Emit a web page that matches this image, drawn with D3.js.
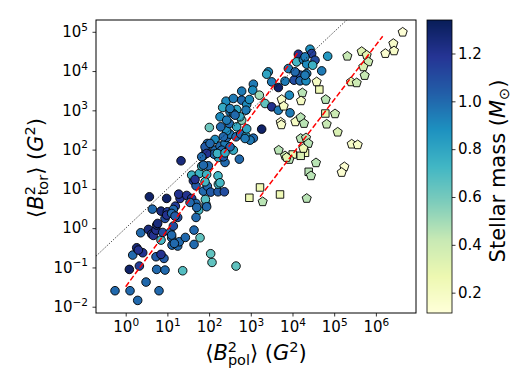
<!DOCTYPE html>
<html><head><meta charset="utf-8">
<script src="https://cdn.jsdelivr.net/npm/d3@7"></script>
<style>body{margin:0;background:#fff} text{font-family:"DejaVu Sans",sans-serif;fill:#000}</style>
</head><body><svg id="c" width="531" height="377"></svg>
<script>
// ---- data (log10 values) ----
const circleLogBpol = [-0.256,0.104,0.288,0.799,0.488,0.088,0.328,0.743,0.943,1.367,2.646,2.070,2.038,0.168,0.264,0.408,0.304,0.727,0.919,0.847,0.360,0.544,0.624,0.663,0.727,0.743,0.847,0.887,1.103,1.111,1.247,1.287,1.431,1.063,1.143,1.783,1.639,1.639,0.943,0.847,0.640,0.983,0.568,0.999,1.247,1.191,1.303,1.143,1.271,1.463,1.583,1.687,1.543,1.751,1.687,1.926,1.911,1.863,1.958,2.038,2.214,2.366,2.222,2.214,1.623,1.583,1.687,1.767,1.942,1.982,1.327,1.823,1.863,1.926,1.958,2.142,2.222,2.382,2.342,2.142,2.262,2.382,2.422,2.502,2.582,2.726,2.422,2.646,2.758,2.886,3.062,2.902,2.486,2.662,2.006,2.278,3.261,2.262,2.422,2.406,2.582,2.782,2.782,2.902,2.662,2.886,2.782,3.062,3.046,2.966,2.326,2.502,3.205,3.341,3.501,3.661,3.941,3.925,3.421,3.381,3.501,3.661,3.821,3.901,4.101,4.197,4.341,4.037,4.181,4.325,4.141,4.420,4.460,4.844,4.101,4.261,4.540,4.341,4.484,4.700,1.903,2.118,2.302,2.502,2.582,2.742,2.982,2.022,2.198,1.942,1.103,0.983,4.301,2.342,2.862,2.502,2.622,4.301,4.061,2.382,1.823,1.863,1.663,1.903,2.262,1.703,1.942,0.767,1.167,1.103,1.183];
const circleLogBtor = [-1.593,-1.593,-1.839,-1.593,-1.372,-1.050,-0.965,-1.050,-1.067,-1.084,-0.965,-0.872,-0.651,-0.685,-0.499,-0.626,-0.558,-0.728,-0.770,-0.668,-0.117,-0.032,-0.151,-0.185,-0.049,0.078,-0.304,-0.109,-0.244,-0.431,-0.456,-0.346,-0.236,-0.109,0.053,-0.244,-0.414,-0.049,0.248,0.434,0.485,0.757,0.799,0.417,0.273,0.561,0.757,0.477,0.867,0.833,0.757,0.629,0.655,0.460,0.273,0.604,0.731,0.943,1.070,0.918,0.926,0.926,1.121,1.333,1.206,1.350,1.079,1.393,1.367,1.588,1.715,1.579,1.842,1.986,2.156,1.986,1.800,1.673,1.817,2.258,2.089,2.156,2.309,2.394,1.986,1.757,2.478,2.326,2.394,2.343,2.292,2.529,2.665,2.580,2.563,2.580,2.521,2.835,2.750,3.233,3.302,3.488,3.259,3.148,3.021,3.004,2.750,3.666,3.514,3.276,3.072,2.962,3.386,3.174,3.089,3.004,2.936,3.386,3.980,3.920,3.725,3.581,3.742,4.064,3.937,3.895,3.937,3.768,3.751,3.751,4.429,4.556,4.446,4.378,4.234,4.293,4.276,4.175,4.149,4.005,2.071,1.885,1.986,2.071,2.919,2.835,2.241,2.156,1.902,1.902,-0.176,0.333,4.361,2.326,2.283,3.047,2.877,3.895,3.980,1.919,1.817,1.605,1.240,1.181,1.155,0.528,0.545,0.120,-0.388,0.375,0.307];
const circleMass = [1.0,1.0,1.0,1.0,1.0,1.3,1.15,1.0,1.0,0.68,0.65,0.65,0.65,1.0,1.25,1.2,1.2,1.05,1.05,1.2,1.0,1.25,1.25,1.2,1.2,1.25,0.72,1.1,1.0,1.0,1.0,1.0,1.0,1.0,1.1,0.65,1.0,1.0,1.1,1.25,1.0,1.3,1.3,1.15,1.1,1.15,1.2,1.0,1.2,1.2,1.15,1.0,1.0,0.72,1.0,0.95,0.68,1.0,1.0,1.05,1.05,1.1,0.72,0.72,1.15,0.75,1.05,0.75,0.75,1.0,1.25,0.75,1.05,1.0,1.0,1.0,0.78,1.0,1.05,0.9,1.0,0.95,1.0,0.95,0.78,1.0,0.9,1.0,1.0,0.8,1.0,0.8,1.0,0.78,0.62,1.0,1.3,0.9,0.95,0.9,0.95,0.95,1.0,0.9,0.8,0.95,0.55,0.95,0.9,0.9,0.78,0.95,0.5,0.65,1.2,0.95,0.95,0.9,0.9,0.8,0.95,1.3,0.95,0.95,1.0,1.1,0.95,1.1,1.0,0.9,1.2,0.88,1.15,0.85,0.72,0.95,1.1,0.9,0.75,0.95,1.05,1.0,1.0,1.0,0.95,0.78,0.95,1.0,0.75,1.2,1.0,1.2,0.95,1.0,0.95,0.95,1.0,0.95,1.0,0.78,1.0,1.0,1.2,0.72,0.72,1.0,1.0,1.25,1.0,1.0,1.05];

const pentLogBpol = [6.643,6.419,6.435,6.227,5.659,5.779,5.819,5.316,5.699,5.731,5.404,5.540,4.580,4.237,4.205,3.741,3.789,4.796,5.020,4.820,3.717,3.733,4.069,4.197,4.277,5.084,5.420,5.564,4.197,4.325,4.381,3.669,3.821,3.925,4.261,4.564,5.244,5.180,4.444,3.285,4.341,3.861];
const pentLogBtor = [4.989,4.701,4.514,4.446,4.497,4.404,4.234,4.378,4.107,3.886,3.725,3.700,3.725,3.445,3.242,3.276,3.106,3.276,2.911,2.648,2.699,2.631,2.707,2.818,2.665,2.444,2.139,2.122,2.283,2.300,2.156,1.986,1.842,1.749,2.030,1.664,1.562,1.418,1.333,0.672,0.757,1.800];
const pentMass = [0.13,0.18,0.18,0.15,0.33,0.3,0.4,0.42,0.35,0.42,0.3,0.4,0.2,0.45,0.2,0.18,0.2,0.45,0.4,0.42,0.15,0.18,0.2,0.45,0.45,0.35,0.18,0.18,0.45,0.45,0.45,0.45,0.4,0.45,0.25,0.45,0.15,0.15,0.45,0.45,0.45,0.3];

const squareLogBpol = [4.644,4.788,4.301,4.005,4.197,4.389,3.221,3.701,2.966];
const squareLogBtor = [3.530,2.919,1.919,1.876,1.842,1.435,1.036,0.858,0.774];
const squareMass = [0.25,0.3,0.25,0.25,0.35,0.45,0.25,0.25,0.25];

// fitted relations (end points, log10)
const fit1LogBpol = [0, 4.141], fit1LogBtor = [-1.491, 4.489];
const fit2LogBpol = [3.221, 6.163], fit2LogBtor = [0.799, 4.887];

const xTickExponents = [0,1,2,3,4,5,6];
const yTickExponents = [-2,-1,0,1,2,3,4,5];
const cbarTicks = [0.2,0.4,0.6,0.8,1.0,1.2];
const massDomain = [0.115, 1.34];
const cmapStops = ["#ffffd9","#edf8b1","#c7e9b4","#7fcdbb","#41b6c4","#1d91c0","#225ea8","#253494","#081d58"];

// ---- drawing ----
const svg = d3.select("#c");
const P = {l:96, r:416, t:20, b:313};
const x = d3.scaleLog().domain([10**-0.712, 10**6.962]).range([P.l, P.r]);
const y = d3.scaleLog().domain([10**-2.16, 10**5.30]).range([P.b, P.t]);
const color = d3.scaleLinear()
  .domain(cmapStops.map((c,i)=>massDomain[0]+i*(massDomain[1]-massDomain[0])/8))
  .range(cmapStops).clamp(true);

svg.append("clipPath").attr("id","clip").append("rect")
  .attr("x",P.l).attr("y",P.t).attr("width",P.r-P.l).attr("height",P.b-P.t);
const g = svg.append("g").attr("clip-path","url(#clip)");

function mk(bp, bt, ms){ return bp.map((v,i)=>({x:10**v, y:10**bt[i], m:ms[i]})); }
const circles = mk(circleLogBpol, circleLogBtor, circleMass);
const pents = mk(pentLogBpol, pentLogBtor, pentMass);
const squares = mk(squareLogBpol, squareLogBtor, squareMass);

const pentagon = { draw(ctx, size){ const R = Math.sqrt(size/2.378);
  for(let k=0;k<5;k++){ const a = -Math.PI/2 + k*2*Math.PI/5;
    const px = R*Math.cos(a), py = R*Math.sin(a);
    if(k===0) ctx.moveTo(px,py); else ctx.lineTo(px,py);} ctx.closePath(); } };

g.selectAll("circle.pt").data(circles).join("circle").attr("class","pt")
  .attr("cx",d=>x(d.x)).attr("cy",d=>y(d.y)).attr("r",4.3)
  .attr("fill",d=>color(d.m)).attr("stroke","#000").attr("stroke-width",0.9);

g.selectAll("path.sq").data(squares).join("path").attr("class","sq")
  .attr("d", d3.symbol().type(d3.symbolSquare).size(56))
  .attr("transform",d=>`translate(${x(d.x)},${y(d.y)})`)
  .attr("fill",d=>color(d.m)).attr("stroke","#000").attr("stroke-width",0.9);

g.selectAll("path.pe").data(pents).join("path").attr("class","pe")
  .attr("d", d3.symbol().type(pentagon).size(2.378*4.8*4.8))
  .attr("transform",d=>`translate(${x(d.x)},${y(d.y)})`)
  .attr("fill",d=>color(d.m)).attr("stroke","#000").attr("stroke-width",0.9);

// 1:1 line
const line = d3.line().x(d=>x(d[0])).y(d=>y(d[1]));
const oneToOne = [10**-0.712, 10**5.30];
g.append("path").attr("d", line(oneToOne.map(v=>[v,v])))
  .attr("fill","none").attr("stroke","#000").attr("stroke-width",0.9).attr("stroke-dasharray","1,1.6");
// fits
[[fit1LogBpol,fit1LogBtor],[fit2LogBpol,fit2LogBtor]].forEach(([a,b])=>{
  g.append("path").attr("d", line(a.map((v,i)=>[10**v, 10**b[i]])))
    .attr("fill","none").attr("stroke","#ff0000").attr("stroke-width",1.5).attr("stroke-dasharray","5.5,2.4");
});

// frame
svg.append("rect").attr("x",P.l).attr("y",P.t).attr("width",P.r-P.l).attr("height",P.b-P.t)
  .attr("fill","none").attr("stroke","#000").attr("stroke-width",1);

// axes
function sciLabel(sel, e, anchor){
  sel.attr("text-anchor",anchor).style("font-size","15px");
  sel.append("tspan").text("10");
  sel.append("tspan").attr("dy",-6.5).style("font-size","10.5px").text(e<0 ? "\u2212"+(-e) : String(e));
}
const xa = svg.append("g").attr("transform",`translate(0,${P.b})`)
  .call(d3.axisBottom(x).tickValues(xTickExponents.map(e=>10**e)).tickSize(3.5).tickSizeOuter(0).tickFormat(()=>""));
xa.select(".domain").remove();
xa.selectAll(".tick line").attr("stroke-width",0.8);
xa.selectAll(".tick").each(function(d,i){
  d3.select(this).select("text").remove();
  const t = d3.select(this).append("text").attr("x",0).attr("y",19);
  sciLabel(t, xTickExponents[i], "middle");
});
const ya = svg.append("g").attr("transform",`translate(${P.l},0)`)
  .call(d3.axisLeft(y).tickValues(yTickExponents.map(e=>10**e)).tickSize(3.5).tickSizeOuter(0).tickFormat(()=>""));
ya.select(".domain").remove();
ya.selectAll(".tick line").attr("stroke-width",0.8);
ya.selectAll(".tick").each(function(d,i){
  d3.select(this).select("text").remove();
  const t = d3.select(this).append("text").attr("x",-8).attr("y",4.8);
  sciLabel(t, yTickExponents[i], "end");
});

// axis labels
const LF = 21, SF = 14.5;
const xl = svg.append("text").attr("x",256).attr("y",360).attr("text-anchor","middle").style("font-size",LF+"px");
xl.append("tspan").text("\u27e8");
xl.append("tspan").style("font-style","italic").text("B");
xl.append("tspan").attr("dy",-8.5).style("font-size",SF+"px").text("2");
xl.append("tspan").attr("dx",-9.2).attr("dy",13.5).style("font-size",SF+"px").text("pol");
xl.append("tspan").attr("dy",-5).text("\u27e9 (");
xl.append("tspan").style("font-style","italic").text("G");
xl.append("tspan").attr("dy",-8.5).style("font-size",SF+"px").text("2");
xl.append("tspan").attr("dy",8.5).text(")");

const yl = svg.append("text").attr("transform","translate(43,168) rotate(-90)").attr("text-anchor","middle").style("font-size",LF+"px");
yl.append("tspan").text("\u27e8");
yl.append("tspan").style("font-style","italic").text("B");
yl.append("tspan").attr("dy",-8.5).style("font-size",SF+"px").text("2");
yl.append("tspan").attr("dx",-9.2).attr("dy",13.5).style("font-size",SF+"px").text("tor");
yl.append("tspan").attr("dy",-5).text("\u27e9 (");
yl.append("tspan").style("font-style","italic").text("G");
yl.append("tspan").attr("dy",-8.5).style("font-size",SF+"px").text("2");
yl.append("tspan").attr("dy",8.5).text(")");

// colorbar
const CB = {l:427, r:452, t:20, b:313};
const cy = d3.scaleLinear().domain(massDomain).range([CB.b, CB.t]);
svg.append("g").selectAll("rect").data(d3.range(CB.t, CB.b, 1)).join("rect")
  .attr("x",CB.l).attr("y",d=>d).attr("width",CB.r-CB.l).attr("height",1.2)
  .attr("fill",d=>color(cy.invert(d+0.5)));
svg.append("rect").attr("x",CB.l).attr("y",CB.t).attr("width",CB.r-CB.l).attr("height",CB.b-CB.t)
  .attr("fill","none").attr("stroke","#000").attr("stroke-width",0.8);
const ca = svg.append("g").attr("transform",`translate(${CB.r},0)`)
  .call(d3.axisRight(cy).tickValues(cbarTicks).tickSize(3.5).tickPadding(2.5).tickSizeOuter(0).tickFormat(d3.format(".1f")));
ca.select(".domain").remove();
ca.selectAll(".tick line").attr("stroke-width",0.8);
ca.selectAll(".tick text").style("font-size","15px").attr("font-family",null);

const cl = svg.append("text").attr("transform","translate(505,171) rotate(-90)").attr("text-anchor","middle").style("font-size",LF+"px");
cl.append("tspan").text("Stellar mass (");
cl.append("tspan").style("font-style","italic").text("M");
cl.append("tspan").attr("dy",4).style("font-size",SF+"px").text("\u2299");
cl.append("tspan").attr("dy",-4).text(")");
</script></body></html>
